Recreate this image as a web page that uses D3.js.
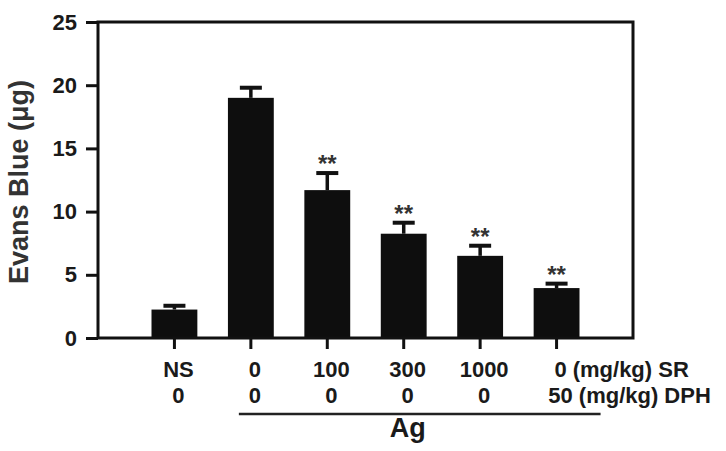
<!DOCTYPE html>
<html>
<head>
<meta charset="utf-8">
<script src="https://cdn.jsdelivr.net/npm/d3@7"></script>
<style>
  body { margin: 0; background: #fff; }
  text { font-family: "Liberation Sans", Arial, sans-serif; font-weight: bold; fill: #1a1a1a; }
</style>
</head>
<body>
<div id="chart"></div>
<script>
// values
var sr_dose = ["NS", "0", "100", "300", "1000", "0"];
var dph_dose = ["0", "0", "0", "0", "0", "50"];
var evans_blue = [2.25, 19.0, 11.7, 8.25, 6.5, 3.95];
var evans_err = [0.3, 0.8, 1.35, 0.87, 0.8, 0.35];
var signif = ["", "", "**", "**", "**", "**"];
var y_ticks = [0, 5, 10, 15, 20, 25];

var width = 726, height = 451;
var margin = {top: 22, right: 93, bottom: 113, left: 98};
var inner_w = width - margin.left - margin.right;
var inner_h = height - margin.top - margin.bottom;

var svg = d3.select("#chart")
    .append("svg")
    .attr("width", width)
    .attr("height", height);

var g = svg.append("g")
    .attr("transform", `translate(${margin.left}, ${margin.top})`);

var idx = d3.range(evans_blue.length);

var x = d3.scaleBand()
    .domain(idx)
    .range([0, inner_w])
    .paddingInner(0.4)
    .paddingOuter(0.7);

var y = d3.scaleLinear()
    .domain([0, 25])
    .range([inner_h, 0]);

function cx(i) { return x(i) + x.bandwidth() / 2; }

// bars
g.selectAll("rect.bar")
    .data(idx)
    .enter()
    .append("rect")
    .attr("class", "bar")
    .attr("x", function(i) { return x(i); })
    .attr("width", x.bandwidth())
    .attr("y", function(i) { return y(evans_blue[i]); })
    .attr("height", function(i) { return inner_h - y(evans_blue[i]); })
    .style("fill", "#0e0e0e");

// error bars (upper only)
g.selectAll("line.stem")
    .data(idx)
    .enter()
    .append("line")
    .attr("x1", cx).attr("x2", cx)
    .attr("y1", function(i) { return y(evans_blue[i]); })
    .attr("y2", function(i) { return y(evans_blue[i] + evans_err[i]); })
    .attr("stroke", "#111")
    .attr("stroke-width", 3.5);

g.selectAll("line.cap")
    .data(idx)
    .enter()
    .append("line")
    .attr("x1", function(i) { return cx(i) - 11; })
    .attr("x2", function(i) { return cx(i) + 11; })
    .attr("y1", function(i) { return y(evans_blue[i] + evans_err[i]); })
    .attr("y2", function(i) { return y(evans_blue[i] + evans_err[i]); })
    .attr("stroke", "#111")
    .attr("stroke-width", 4);

// significance stars
g.selectAll("text.star")
    .data(idx)
    .enter()
    .append("text")
    .attr("x", cx)
    .attr("y", function(i) { return y(evans_blue[i] + evans_err[i]) - 1; })
    .style("text-anchor", "middle")
    .style("font-size", "24px")
    .style("fill", "#333")
    .text(function(i) { return signif[i]; });

// y axis
var y_axis = g.append("g")
    .call(d3.axisLeft(y).tickValues(y_ticks).tickSize(12).tickPadding(9));
y_axis.select(".domain").remove();
y_axis.selectAll("line").attr("stroke", "#111").attr("stroke-width", 3);
y_axis.selectAll("text")
    .style("font-size", "22px")
    .style("font-family", "Liberation Sans, Arial, sans-serif");

// x ticks
g.selectAll("line.xtick")
    .data(idx)
    .enter()
    .append("line")
    .attr("x1", cx).attr("x2", cx)
    .attr("y1", inner_h).attr("y2", inner_h + 11)
    .attr("stroke", "#111")
    .attr("stroke-width", 3);

// frame
g.append("rect")
    .attr("width", inner_w)
    .attr("height", inner_h)
    .attr("fill", "none")
    .attr("stroke", "#111")
    .attr("stroke-width", 3);

// dose labels
var last = idx.length - 1;
var row1 = g.selectAll("text.sr")
    .data(idx)
    .enter()
    .append("text")
    .attr("x", function(i) { return cx(i) + 4; })
    .attr("y", inner_h + 39)
    .style("text-anchor", "middle")
    .style("font-size", "22px")
    .text(function(i) { return sr_dose[i]; });

var row2 = g.selectAll("text.dph")
    .data(idx)
    .enter()
    .append("text")
    .attr("x", function(i) { return cx(i) + 4; })
    .attr("y", inner_h + 65)
    .style("text-anchor", "middle")
    .style("font-size", "22px")
    .text(function(i) { return dph_dose[i]; });

// units after the last column
function addUnit(sel, unit) {
    var node = sel.filter(function(i) { return i === last; }).node();
    var w = node.getComputedTextLength();
    g.append("text")
        .attr("x", cx(last) + 4 + w / 2 + 6)
        .attr("y", node.getAttribute("y"))
        .style("font-size", "22px")
        .text(unit);
}
addUnit(row1, "(mg/kg) SR");
addUnit(row2, "(mg/kg) DPH");

// Ag group bracket
g.append("line")
    .attr("x1", cx(1) - 12)
    .attr("x2", cx(last) + 44)
    .attr("y1", inner_h + 76)
    .attr("y2", inner_h + 76)
    .attr("stroke", "#222")
    .attr("stroke-width", 2.5);

g.append("text")
    .attr("x", (cx(1) - 12 + cx(last) + 44) / 2 - 12)
    .attr("y", inner_h + 99)
    .style("text-anchor", "middle")
    .style("font-size", "27px")
    .text("Ag");

// y axis title
svg.append("text")
    .attr("transform", `translate(28, ${margin.top + inner_h / 2 + 2}) rotate(-90)`)
    .style("text-anchor", "middle")
    .style("font-size", "27px")
    .style("fill", "#333")
    .text("Evans Blue (\u03bcg)");
</script>
</body>
</html>
